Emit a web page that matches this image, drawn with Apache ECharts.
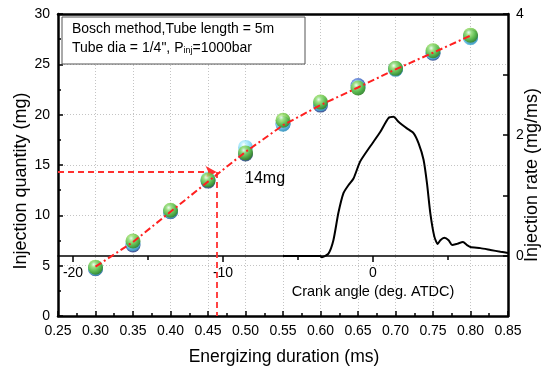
<!DOCTYPE html>
<html><head><meta charset="utf-8">
<script src="https://cdn.jsdelivr.net/npm/echarts@6/dist/echarts.min.js"></script>
<style>html,body{margin:0;padding:0;background:#fff}#c{width:548px;height:369px}</style>
</head><body><div id="c"></div>
<script>
// ---- data ----
const durations = [0.30, 0.35, 0.40, 0.45, 0.50, 0.55, 0.60, 0.65, 0.70, 0.75, 0.80];
const qtyBlue  = [4.7, 7.05, 10.35, 13.4, 16.1, 19.1, 20.95, 22.9, 24.55, 26.1, 27.75];
const qtyCyan  = [4.75, 7.2, 10.4, 13.6, 16.75, 19.05, 21.1, 22.7, 24.5, 26.2, 27.65];
const qtyGreen = [4.85, 7.45, 10.5, 13.5, 16.2, 19.45, 21.25, 22.65, 24.6, 26.35, 27.9];
const qtyFit   = [4.9, 7.35, 10.35, 13.35, 16.3, 18.95, 20.95, 22.7, 24.5, 26.15, 27.85];
const crankAngle = [-6.0, -3.53, -3.41, -2.97, -2.64, -2.31, -1.97, -1.64, -1.30, -0.86, -0.19, 0.48, 1.03, 1.37, 1.70, 2.26, 2.70, 3.04, 3.37, 3.60, 3.82, 4.09, 4.31, 4.49, 4.75, 5.04, 5.27, 5.60, 6.00, 6.27, 6.49, 7.16, 7.83, 8.50, 9.0];
const injRate    = [0.0, 0.0, -0.02, 0.04, 0.26, 0.71, 1.04, 1.17, 1.28, 1.56, 1.81, 2.05, 2.28, 2.30, 2.22, 2.11, 2.03, 1.86, 1.59, 1.20, 0.71, 0.32, 0.20, 0.26, 0.30, 0.26, 0.18, 0.20, 0.23, 0.18, 0.15, 0.13, 0.10, 0.07, 0.05];
const crankMajorTicks = [-20, -10, 0];
const crankMinorTicks = [-15, -5, 5];
const refQty = 14.3;
const refDuration = 0.4615;

const FONT = 'Liberation Sans, Arial, sans-serif';
function sphere(c0, c1, c2, c3) {
  return {type: 'radial', x: 0.38, y: 0.32, r: 0.7,
    colorStops: [{offset: 0, color: c0}, {offset: 0.25, color: c1}, {offset: 0.65, color: c2}, {offset: 1, color: c3}]};
}
const pairs = (xs, ys) => xs.map((x, i) => [x, ys[i]]);

const chart = echarts.init(document.getElementById('c'), null, {renderer: 'canvas'});
const black = '#000';
const option = {
  animation: false,
  backgroundColor: '#fff',
  grid: [
    {left: 58, right: 40, top: 14, bottom: 53},
    {left: 58, right: 40, top: 14, bottom: 113}
  ],
  xAxis: [
    {gridIndex: 0, type: 'value', position: 'bottom', min: 0.25, max: 0.85, interval: 0.05,
      axisLine: {onZero: false, lineStyle: {color: black, width: 2.5}},
      axisTick: {inside: true, length: 5, lineStyle: {color: black, width: 1.5}},
      minorTick: {show: true, splitNumber: 2, length: 3, lineStyle: {color: black, width: 1.5}},
      axisLabel: {fontSize: 14, color: black, fontFamily: FONT, margin: 8, formatter: v => v.toFixed(2)},
      splitLine: {show: true, lineStyle: {color: '#c4c4c4', type: [1, 2], width: 1}}},
    {gridIndex: 0, type: 'value', position: 'top', min: 0.25, max: 0.85,
      axisLine: {onZero: false, lineStyle: {color: black, width: 2.5}},
      axisTick: {show: false}, axisLabel: {show: false}, splitLine: {show: false}},
    {gridIndex: 1, type: 'value', position: 'bottom', min: -21, max: 9,
      axisLine: {onZero: false, lineStyle: {color: black, width: 1.5}},
      axisTick: {customValues: crankMajorTicks, inside: false, length: 6, lineStyle: {color: black, width: 1.5}},
      axisLabel: {customValues: crankMajorTicks, fontSize: 14, color: black, fontFamily: FONT, margin: 10},
      splitLine: {show: false}},
    {gridIndex: 1, type: 'value', position: 'bottom', min: -21, max: 9,
      axisLine: {show: false, onZero: false},
      axisTick: {customValues: crankMinorTicks, inside: false, length: 4, lineStyle: {color: black, width: 1.5}},
      axisLabel: {show: false}, splitLine: {show: false}}
  ],
  yAxis: [
    {gridIndex: 0, type: 'value', position: 'left', min: 0, max: 30, interval: 5,
      axisLine: {show: true, onZero: false, lineStyle: {color: black, width: 2.5}},
      axisTick: {show: true, inside: true, length: 5, lineStyle: {color: black, width: 1.5}},
      minorTick: {show: true, splitNumber: 2, length: 3, lineStyle: {color: black, width: 1.5}},
      axisLabel: {fontSize: 14, color: black, fontFamily: FONT, margin: 8},
      splitLine: {show: true, lineStyle: {color: '#c4c4c4', type: [1, 2], width: 1}}},
    {gridIndex: 0, type: 'value', position: 'right', min: 0, max: 30,
      axisLine: {show: true, onZero: false, lineStyle: {color: black, width: 2.5}},
      axisTick: {show: false}, axisLabel: {show: false}, splitLine: {show: false}},
    {gridIndex: 1, type: 'value', position: 'right', min: 0, max: 4, interval: 2,
      axisLine: {show: false, onZero: false},
      axisTick: {show: true, inside: true, length: 5, lineStyle: {color: black, width: 1.5}},
      minorTick: {show: true, splitNumber: 2, length: 5, lineStyle: {color: black, width: 1.5}},
      axisLabel: {fontSize: 14, color: black, fontFamily: FONT, margin: 8},
      splitLine: {show: false}}
  ],
  series: [
    {name: 'blue', type: 'scatter', xAxisIndex: 0, yAxisIndex: 0, symbolSize: 15, z: 3,
      data: pairs(durations, qtyBlue),
      itemStyle: {color: sphere('#dfe8ff', '#5f85e0', '#2c55b5', '#16327a')}},
    {name: 'cyan', type: 'scatter', xAxisIndex: 0, yAxisIndex: 0, symbolSize: 15, z: 4,
      data: pairs(durations, qtyCyan),
      itemStyle: {color: sphere('#ffffff', '#b0eeff', '#6fd0f0', '#3aa3c9')}},
    {name: 'green', type: 'scatter', xAxisIndex: 0, yAxisIndex: 0, symbolSize: 15, z: 5,
      data: pairs(durations, qtyGreen),
      itemStyle: {color: sphere('#f4fff0', '#9be06a', '#55b82a', '#2f7d14')}},
    {name: 'fit', type: 'line', xAxisIndex: 0, yAxisIndex: 0, z: 6, symbol: 'none',
      data: pairs(durations, qtyFit),
      lineStyle: {color: '#ff2020', width: 2, type: [7, 3, 2, 3]},
      markLine: {silent: true, symbol: ['none', 'none'], label: {show: false},
        lineStyle: {color: '#ff3030', width: 1.8, type: [6, 4]},
        data: [
          [{coord: [0.25, refQty], symbol: 'none'}, {coord: [refDuration, refQty], symbol: 'arrow', symbolSize: [9, 11]}],
          [{coord: [refDuration, refQty], symbol: 'none'}, {coord: [refDuration, 0], symbol: 'none'}]
        ]}},
    {name: 'rate', type: 'line', xAxisIndex: 2, yAxisIndex: 2, z: 6, symbol: 'none', clip: false, smooth: 0.2,
      data: pairs(crankAngle, injRate),
      lineStyle: {color: black, width: 2}}
  ],
  graphic: [
    {type: 'rect', z: 10, shape: {x: 62, y: 17, width: 243, height: 47},
      style: {fill: '#fff', stroke: '#555', lineWidth: 1}},
    {type: 'text', z: 11, x: 72, y: 29,
      style: {text: 'Bosch method,Tube length = 5m', font: '14px ' + FONT, fill: black, verticalAlign: 'middle'}},
    {type: 'text', z: 11, x: 72, y: 47,
      style: {text: '{a|Tube dia = 1/4", P}{s|inj}{a|=1000bar}', verticalAlign: 'middle', fill: black,
        rich: {a: {fontSize: 14, fontFamily: FONT, fill: black, verticalAlign: 'bottom', lineHeight: 16},
               s: {fontSize: 9, fontFamily: FONT, fill: black, verticalAlign: 'bottom', lineHeight: 12}}}},
    {type: 'text', z: 11, x: 21, y: 181, rotation: Math.PI / 2,
      style: {text: 'Injection quantity (mg)', font: '18px ' + FONT, fill: black, align: 'center', verticalAlign: 'middle'}},
    {type: 'text', z: 11, x: 532, y: 175, rotation: Math.PI / 2,
      style: {text: 'Injection rate (mg/ms)', font: '18px ' + FONT, fill: black, align: 'center', verticalAlign: 'middle'}},
    {type: 'text', z: 11, x: 284, y: 357,
      style: {text: 'Energizing duration (ms)', font: '17.5px ' + FONT, fill: black, align: 'center', verticalAlign: 'middle'}},
    {type: 'text', z: 11, x: 373, y: 292,
      style: {text: 'Crank angle (deg. ATDC)', font: '14.5px ' + FONT, fill: black, align: 'center', verticalAlign: 'middle'}},
    {type: 'text', z: 11, x: 245, y: 179,
      style: {text: '14mg', font: '16px ' + FONT, fill: black, align: 'left', verticalAlign: 'middle'}}
  ]
};
chart.setOption(option);
</script>
</body></html>
